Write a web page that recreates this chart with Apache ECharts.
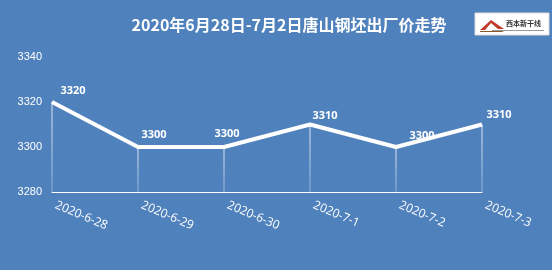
<!DOCTYPE html>
<html>
<head>
<meta charset="utf-8">
<script src="https://cdn.jsdelivr.net/npm/echarts@6/dist/echarts.min.js"></script>
<style>
html,body{margin:0;padding:0;background:#4F81BD;}
#c{width:552px;height:270px;}
</style>
</head>
<body>
<div id="c"></div>
<script>
var titleText = '2020年6月28日-7月2日唐山钢坯出厂价走势';
var categories = ['2020-6-28', '2020-6-29', '2020-6-30', '2020-7-1', '2020-7-2', '2020-7-3'];
var prices = [3320, 3300, 3300, 3310, 3300, 3310];
var yTicks = [3280, 3300, 3320, 3340];

var labelOffsets = [[21, 0], [16, -1], [3, -2], [15, 2], [26, 0], [17, 1]];

var chart = echarts.init(document.getElementById('c'));
var lineData = prices.map(function (v, i) {
  return { value: v, label: { offset: labelOffsets[i] } };
});
chart.setOption({
  backgroundColor: '#4F81BD',
  animation: false,
  title: {
    text: titleText,
    left: 284, top: 12, textAlign: 'center',
    textStyle: { color: '#fff', fontSize: 16, fontWeight: 'bold', fontFamily: '"Noto Sans CJK SC", sans-serif' }
  },
  grid: { left: 52, right: 70, top: 57, bottom: 78, containLabel: false },
  xAxis: {
    type: 'category', data: categories, boundaryGap: false,
    axisLine: { show: true, lineStyle: { color: '#fff', width: 1 } },
    axisTick: { show: false },
    axisLabel: { color: '#fff', fontSize: 12, rotate: -23, margin: 11, padding: [0, 0, 0, 4],
      fontFamily: '"Open Sans", sans-serif', interval: 0 },
    splitLine: { show: false }
  },
  yAxis: {
    type: 'value', min: yTicks[0], max: yTicks[yTicks.length - 1], interval: yTicks[1] - yTicks[0],
    axisLine: { show: false }, axisTick: { show: false }, splitLine: { show: false },
    axisLabel: { color: '#fff', fontSize: 11, margin: 10, fontFamily: '"Liberation Sans", sans-serif',
      formatter: function (v) { return String(v); } }
  },
  series: [
    {
      type: 'bar', data: prices, barWidth: 1, silent: true, z: 1,
      itemStyle: {
        color: new echarts.graphic.LinearGradient(0, 0, 0, 1, [
          { offset: 0, color: 'rgba(255,255,255,0.85)' },
          { offset: 1, color: 'rgba(255,255,255,0.35)' }
        ])
      }
    },
    {
      type: 'line', data: lineData, symbol: 'circle', symbolSize: 1, showSymbol: true, z: 3,
      itemStyle: { color: '#fff', opacity: 0 },
      lineStyle: { color: '#fff', width: 4 },
      label: {
        show: true, position: 'top', color: '#fff', fontSize: 11, fontWeight: 'bold',
        fontFamily: '"Open Sans", sans-serif', opacity: 1
      }
    }
  ],
  graphic: [
    { type: 'rect', shape: { x: 475, y: 13, width: 74, height: 22 }, style: { fill: '#fff', stroke: '#ddd' } },
    { type: 'polygon', shape: { points: [[480, 30], [491, 20], [504, 29], [498, 29], [491, 23], [485, 30]] }, style: { fill: '#c0392b' } },
    { type: 'polygon', shape: { points: [[480, 31], [504, 31], [502, 32], [480, 32]] }, style: { fill: '#8b5a2b' } },
    { type: 'text', style: { x: 506, y: 20, text: '西本新干线', fill: '#333', fontSize: 7, fontWeight: 'bold', fontFamily: '"Noto Sans CJK SC", sans-serif' } },
    { type: 'rect', shape: { x: 492, y: 30, width: 52, height: 1 }, style: { fill: '#999' } }
  ]
});
</script>
</body>
</html>
